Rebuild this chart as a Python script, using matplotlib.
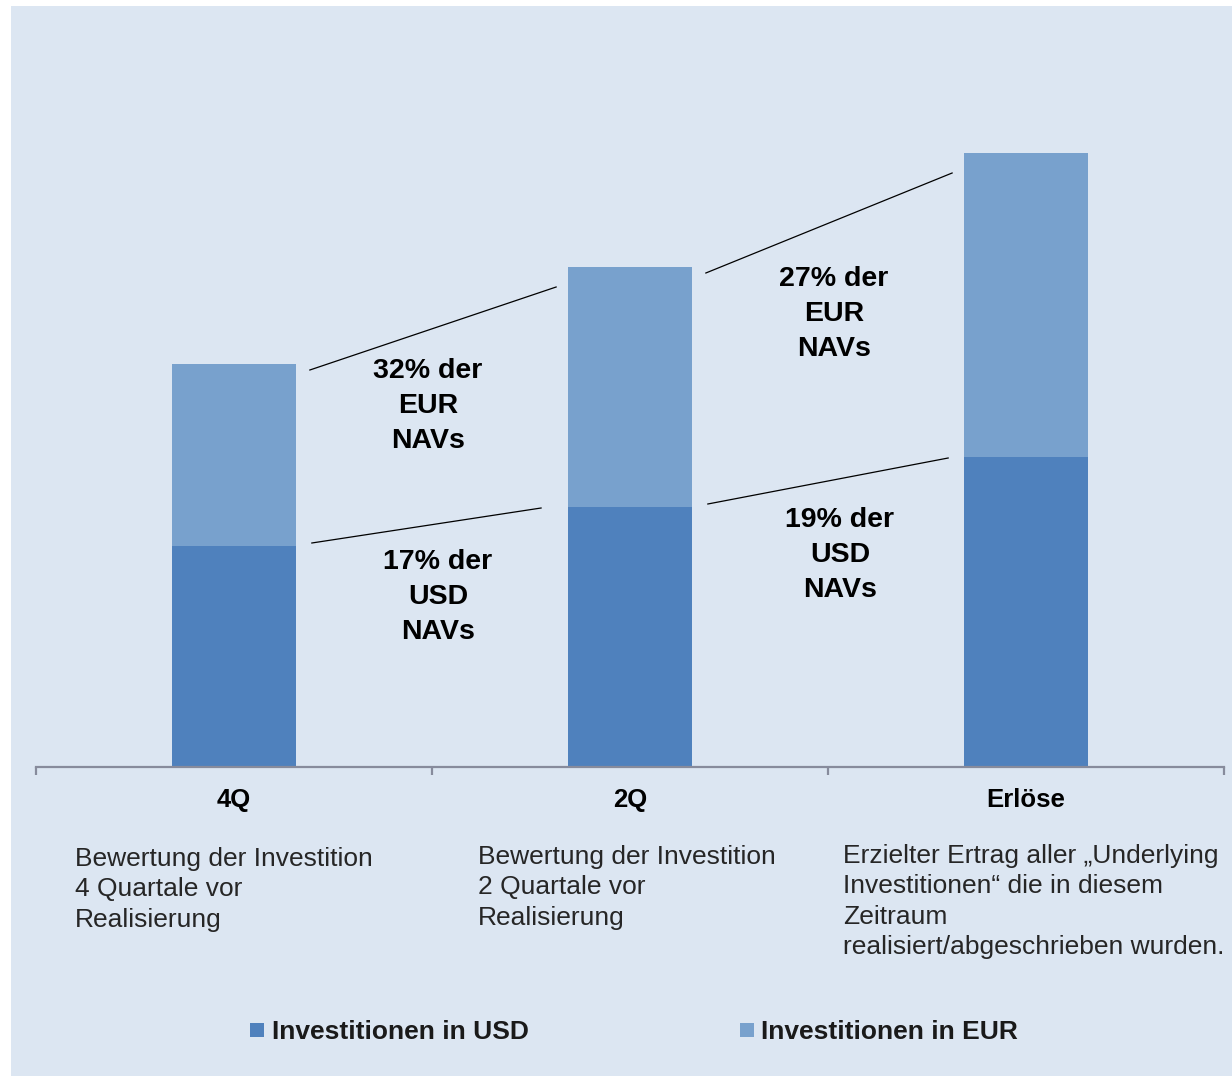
import matplotlib
matplotlib.use("Agg")
import matplotlib.pyplot as plt
from matplotlib.patches import Rectangle, Patch
from matplotlib.transforms import blended_transform_factory

# ---------------- data ----------------
categories = ["4Q", "2Q", "Erlöse"]
usd_values = [221, 260, 310]
eur_values = [182, 240, 304]
series_names = ["Investitionen in USD", "Investitionen in EUR"]
descriptions = [
    "Bewertung der Investition\n4 Quartale vor\nRealisierung",
    "Bewertung der Investition\n2 Quartale vor\nRealisierung",
    "Erzielter Ertrag aller \u201eUnderlying\nInvestitionen\u201c die in diesem\nZeitraum\nrealisiert/abgeschrieben wurden.",
]
eur_labels = ["32% der\nEUR\nNAVs", "27% der\nEUR\nNAVs"]
usd_labels = ["17% der\nUSD\nNAVs", "19% der\nUSD\nNAVs"]

# ---------------- style ----------------
W, H = 1232, 1077
BG = "#dce6f2"
C_USD = "#4f81bd"
C_EUR = "#78a1cd"
AXC = "#878b9c"
plt.rcParams["font.family"] = ["Liberation Sans", "DejaVu Sans"]

fig = plt.figure(figsize=(W / 100, H / 100), dpi=100, facecolor="white")
fig.patches.append(Rectangle((11 / W, 1 / H), 1 - 11 / W, (1077 - 7) / H,
                             transform=fig.transFigure, facecolor=BG,
                             edgecolor="none", zorder=-10))

ax = fig.add_axes([36 / W, (H - 767) / H, (1224 - 36) / W, 707 / H])
ax.set_facecolor("none")
ax.set_xlim(-0.5, 2.5)
ax.set_ylim(0, 707)

x = list(range(len(categories)))
bw = 124 / 396
totals = [u + e for u, e in zip(usd_values, eur_values)]
ax.bar(x, usd_values, width=bw, color=C_USD, label=series_names[0], zorder=2)
ax.bar(x, eur_values, width=bw, bottom=usd_values, color=C_EUR,
       label=series_names[1], zorder=2)

for s in ["top", "right", "left"]:
    ax.spines[s].set_visible(False)
ax.spines["bottom"].set_color(AXC)
ax.spines["bottom"].set_linewidth(1.6)
ax.set_yticks([])
ax.set_xticks([-0.5, 0.5, 1.5, 2.5], minor=True)
ax.tick_params(axis="x", which="minor", length=6, width=1.6, color=AXC)
ax.set_xticks(x)
ax.set_xticklabels(categories, fontsize=18.5, fontweight="bold", color="black")
ax.tick_params(axis="x", which="major", length=0, pad=15)

# connector lines between bars
usd_end_gap = [0.068, 0.04]
for i in range(len(categories) - 1):
    x0 = i + bw / 2 + 0.035
    # EUR (top of stacks)
    ax.plot([x0, i + 1 - bw / 2 - 0.03], [totals[i] - 6, totals[i + 1] - 20],
            color="black", lw=0.9, zorder=3)
    # USD
    ax.plot([x0 + 0.005, i + 1 - bw / 2 - usd_end_gap[i]],
            [usd_values[i] + 3, usd_values[i + 1] - 1],
            color="black", lw=0.9, zorder=3)

eur_label_pos = [(0.49, 361), (1.515, 453)]
usd_label_pos = [(0.515, 170), (1.53, 212)]
for (lx, ly), t in zip(eur_label_pos, eur_labels):
    ax.text(lx, ly, t, ha="center", va="center", fontsize=20.5,
            fontweight="bold", color="black", linespacing=1.45)
for (lx, ly), t in zip(usd_label_pos, usd_labels):
    ax.text(lx, ly, t, ha="center", va="center", fontsize=20.5,
            fontweight="bold", color="black", linespacing=1.45)

# description texts under categories
trans = blended_transform_factory(ax.transData, fig.transFigure)
desc_x = [-0.402, 0.616, 1.538]
desc_top = [847, 845, 844]
for dx, dt, t in zip(desc_x, desc_top, descriptions):
    ax.text(dx, (H - dt) / H, t, transform=trans, ha="left", va="top",
            fontsize=19, color="#262626", linespacing=1.34)

handles = [Patch(facecolor=C_USD, edgecolor="none"),
           Patch(facecolor=C_EUR, edgecolor="none")]
fig.legend(handles, series_names, loc="center", bbox_to_anchor=(634 / W, (H - 1032) / H),
           ncol=2, frameon=False, prop={"size": 19, "weight": "bold"},
           handlelength=0.53, handleheight=0.44, handletextpad=0.27,
           columnspacing=8.0, labelcolor="#1a1a1a")

fig.savefig("out.png", dpi=100, facecolor="white")
